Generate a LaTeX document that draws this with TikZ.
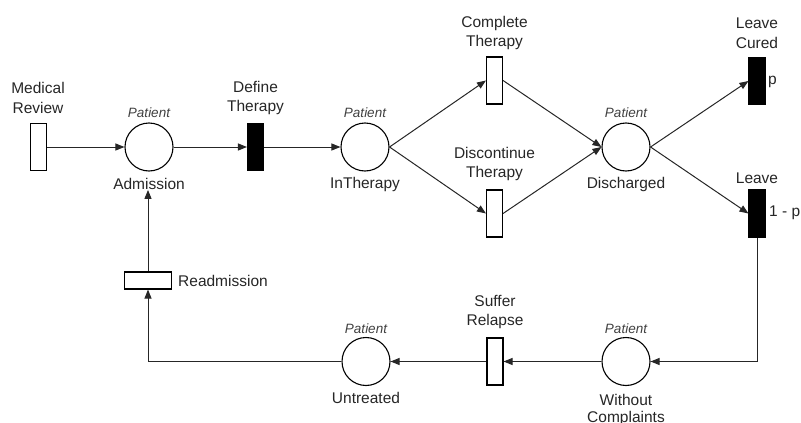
\documentclass[tikz,border=0pt]{standalone}
\usepackage{fontspec}
\setmainfont{Liberation Sans}
\usetikzlibrary{arrows.meta}
\begin{document}
\begin{tikzpicture}[x=1pt,y=-1pt,
 place/.style={circle,draw,line width=1.1pt,minimum size=48pt,inner sep=0pt},
 trans/.style={draw,line width=1.1pt,minimum width=16pt,minimum height=47pt,inner sep=0pt},
 btrans/.style={trans,fill=black},
 htrans/.style={draw,line width=1.1pt,minimum width=47pt,minimum height=17pt,inner sep=0pt},
 lbl/.style={font=\fontsize{15.5}{19.5}\selectfont,align=center,text=black!85,inner sep=0pt},
 pat/.style={font=\fontsize{13.5}{15}\selectfont\itshape,text=black!75,inner sep=0pt},
 arc/.style={line width=1pt,draw=black!85,-{Triangle[length=9pt,width=7pt]}}]
\useasboundingbox (0,0) rectangle (801,423);
% top row
\node[trans] (mr) at (38.5,147) {};
\node[lbl] (mrl) at (38,98) {Medical\\Review};
\node[place] (adm) at (149,147) {};
\node[pat] (admp) at (149,113) {Patient};
\node[lbl] (adml) at (149,184) {Admission};
\node[btrans] (dt) at (255.5,147) {};
\node[lbl] (dtl) at (255.5,98) {Define\\Therapy};
\node[place] (int) at (365,147) {};
\node[pat] (intp) at (365,113) {Patient};
\node[lbl] (intl) at (365,184) {InTherapy};
\node[trans] (ct) at (494.5,80.5) {};
\node[lbl] (ctl) at (494.5,33) {Complete\\Therapy};
\node[trans] (dct) at (494.5,213.5) {};
\node[lbl] (dctl) at (494.5,164) {Discontinue\\Therapy};
\node[place] (dis) at (626,147) {};
\node[pat] (disp) at (626,113) {Patient};
\node[lbl] (disl) at (626,184) {Discharged};
\node[btrans] (lc) at (757,81) {};
\node[lbl] (lcl) at (757,33) {Leave\\Cured};
\node[lbl,anchor=west] (lcp) at (768,82) {p};
\node[btrans] (lv) at (757,213.5) {};
\node[lbl] (lvl) at (757,178) {Leave};
\node[lbl,anchor=west] (lvp) at (769,213) {1 - p};
% bottom row
\node[htrans] (rd) at (148,280.5) {};
\node[lbl,anchor=west] (rdl) at (178,280.5) {Readmission};
\node[place] (unt) at (366,361.5) {};
\node[pat] (untp) at (366,329) {Patient};
\node[lbl] (untl) at (366,398) {Untreated};
\node[trans] (sr) at (495,361.5) {};
\node[lbl] (srl) at (495,312) {Suffer\\Relapse};
\node[place] (wc) at (626,361.5) {};
\node[pat] (wcp) at (626,329) {Patient};
\node[lbl,font=\fontsize{15.5}{17}\selectfont] (wcl) at (626,410) {Without\\Complaints};
% arcs
\draw[arc] (mr.east) -- (adm.west);
\draw[arc] (adm.east) -- (dt.west);
\draw[arc] (dt.east) -- (int.west);
\draw[arc] (int.east) -- (ct.west);
\draw[arc] (int.east) -- (dct.west);
\draw[arc] (ct.east) -- (dis.west);
\draw[arc] (dct.east) -- (dis.west);
\draw[arc] (dis.east) -- (lc.west);
\draw[arc] (dis.east) -- (lv.west);
\draw[arc] (lv.south) |- (wc.east);
\draw[arc] (wc.west) -- (sr.east);
\draw[arc] (sr.west) -- (unt.east);
\draw[arc] (unt.west) -| (rd.south);
\draw[arc] (rd.north) -- (rd.north |- adml.south);
\end{tikzpicture}
\end{document}
